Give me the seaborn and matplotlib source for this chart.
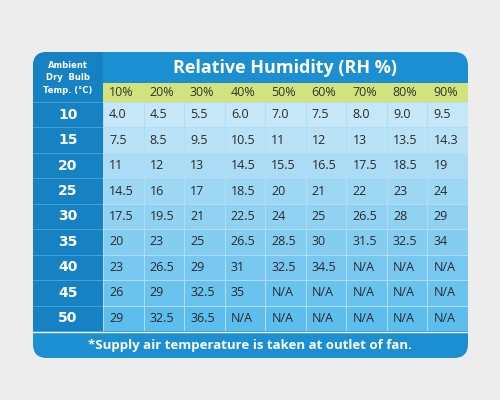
import numpy as np
import pandas as pd
import seaborn as sns
import matplotlib.pyplot as plt
from matplotlib.patches import FancyBboxPatch, Rectangle
from matplotlib.colors import LinearSegmentedColormap

humidity = ['10%', '20%', '30%', '40%', '50%', '60%', '70%', '80%', '90%']
temps = ['10', '15', '20', '25', '30', '35', '40', '45', '50']
values = [
    ['4.0', '4.5', '5.5', '6.0', '7.0', '7.5', '8.0', '9.0', '9.5'],
    ['7.5', '8.5', '9.5', '10.5', '11', '12', '13', '13.5', '14.3'],
    ['11', '12', '13', '14.5', '15.5', '16.5', '17.5', '18.5', '19'],
    ['14.5', '16', '17', '18.5', '20', '21', '22', '23', '24'],
    ['17.5', '19.5', '21', '22.5', '24', '25', '26.5', '28', '29'],
    ['20', '23', '25', '26.5', '28.5', '30', '31.5', '32.5', '34'],
    ['23', '26.5', '29', '31', '32.5', '34.5', 'N/A', 'N/A', 'N/A'],
    ['26', '29', '32.5', '35', 'N/A', 'N/A', 'N/A', 'N/A', 'N/A'],
    ['29', '32.5', '36.5', 'N/A', 'N/A', 'N/A', 'N/A', 'N/A', 'N/A'],
]

fig = plt.figure(figsize=(5, 4), dpi=100)
fig.patch.set_facecolor('#ededed')
bg = fig.add_axes([0, 0, 1, 1])
bg.set_xlim(0, 500)
bg.set_ylim(400, 0)
bg.axis('off')

dark = '#1b8fd2'
panel = FancyBboxPatch((33, 52), 435, 306, boxstyle='round,pad=0,rounding_size=14',
                       fc=dark, ec='none')
bg.add_patch(panel)
bg.add_patch(Rectangle((103, 83), 365, 19, fc='#d3e27c', ec='none'))
left = Rectangle((33, 52), 70, 279, fc='#1682c4', ec='none')
bg.add_patch(left)
left.set_clip_path(panel)
bg.plot([33, 468], [332, 332], color='white', lw=1)

bg.text(285, 68, 'Relative Humidity (RH %)', color='white', fontsize=13,
        fontweight='bold', ha='center', va='center', family='Open Sans')
bg.text(68, 78, 'Ambient\nDry  Bulb\nTemp. (°C)', color='white', fontsize=6,
        fontweight='bold', ha='center', va='center', linespacing=1.5)
for i, h in enumerate(humidity):
    bg.text(103 + 40.5 * i + 6, 92.5, h, fontsize=9, color='#333333', va='center',
            family='Open Sans')
row_h = 229 / len(temps)
for i, t in enumerate(temps):
    bg.text(68, 102 + row_h * (i + 0.5), t, color='white', fontsize=10,
            fontweight='bold', ha='center', va='center')
    bg.plot([33, 103], [102 + row_h * i] * 2, color='#4aa6dc', lw=0.6)
bg.text(250, 345, '*Supply air temperature is taken at outlet of fan.', color='white',
        fontsize=9.5, fontweight='bold', ha='center', va='center', family='Open Sans')

ax = fig.add_axes([103 / 500, (400 - 331) / 400, 365 / 500, 229 / 400])
shade = pd.DataFrame(np.repeat(np.arange(len(temps))[:, None], len(humidity), axis=1),
                     index=temps, columns=humidity)
cmap = LinearSegmentedColormap.from_list('rows', ['#c6e7f8', '#5dbded'])
sns.heatmap(shade, ax=ax, cmap=cmap, cbar=False, linewidths=0.4, linecolor='#b0dcf4')
for r, row in enumerate(values):
    for c, v in enumerate(row):
        ax.text(c + 0.15, r + 0.5, v, fontsize=9, color='#2a2a2a', va='center',
                family='Open Sans')
ax.axis('off')

fig.savefig('out.png', dpi=100, facecolor=fig.get_facecolor())
